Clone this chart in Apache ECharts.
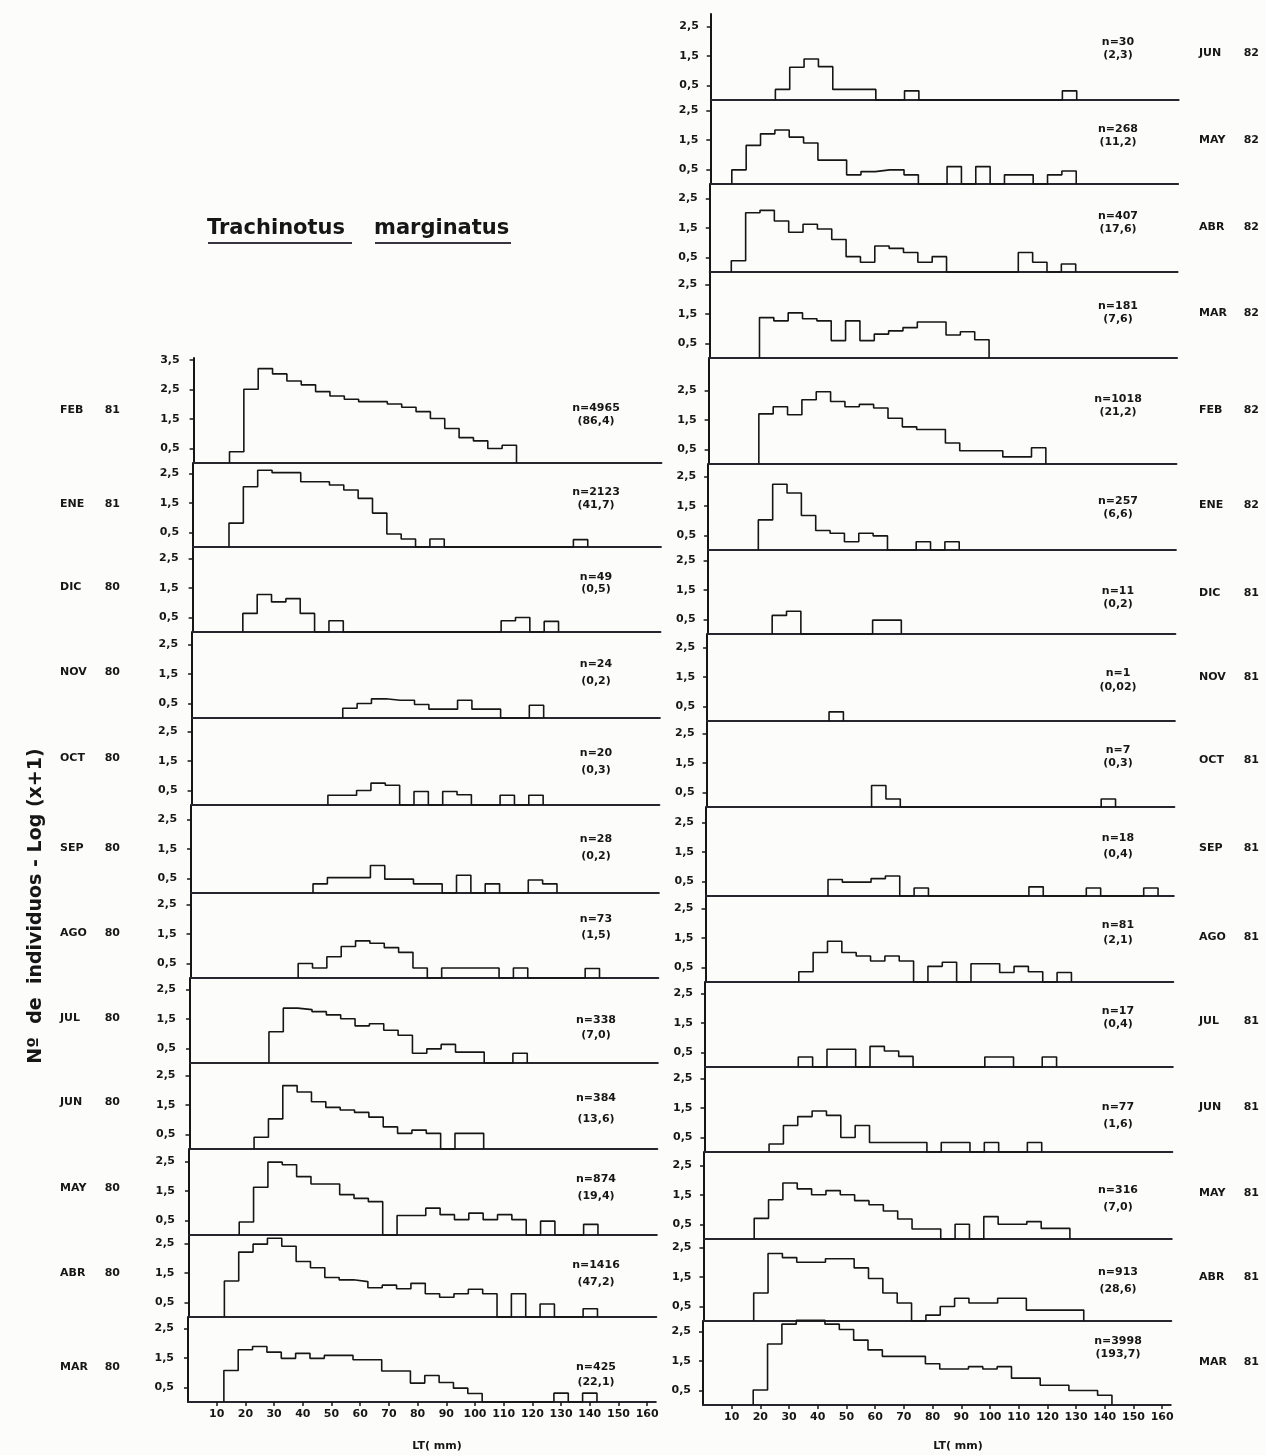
<!DOCTYPE html>
<html><head><meta charset="utf-8">
<script src="https://cdn.jsdelivr.net/npm/echarts@6/dist/echarts.min.js"></script>
<style>html,body{margin:0;padding:0;background:#fcfcfb}#c{width:1266px;height:1455px}</style>
</head><body><div id="c"></div>
<script>
// ---------------- DATA ----------------
const binWidth = 5; // length class width (mm)
const xTicks = [10,20,30,40,50,60,70,80,90,100,110,120,130,140,150,160];
const yTicks = [0.5,1.5,2.5];
const yTicksTall = [0.5,1.5,2.5,3.5];

const leftLabels = ['FEB 81','ENE 81','DIC 80','NOV 80','OCT 80','SEP 80','AGO 80','JUL 80','JUN 80','MAY 80','ABR 80','MAR 80'];
const leftN   = ['n=4965','n=2123','n=49','n=24','n=20','n=28','n=73','n=338','n=384','n=874','n=1416','n=425'];
const leftPar = ['(86,4)','(41,7)','(0,5)','(0,2)','(0,3)','(0,2)','(1,5)','(7,0)','(13,6)','(19,4)','(47,2)','(22,1)'];

const rightLabels = ['JUN 82','MAY 82','ABR 82','MAR 82','FEB 82','ENE 82','DIC 81','NOV 81','OCT 81','SEP 81','AGO 81','JUL 81','JUN 81','MAY 81','ABR 81','MAR 81'];
const rightN   = ['n=30','n=268','n=407','n=181','n=1018','n=257','n=11','n=1','n=7','n=18','n=81','n=17','n=77','n=316','n=913','n=3998'];
const rightPar = ['(2,3)','(11,2)','(17,6)','(7,6)','(21,2)','(6,6)','(0,2)','(0,02)','(0,3)','(0,4)','(2,1)','(0,4)','(1,6)','(7,0)','(28,6)','(193,7)'];

// [class centre (mm), log(x+1)]
const feb81 = [[15,.38],[20,2.5],[25,3.2],[30,3.02],[35,2.78],[40,2.65],[45,2.42],[50,2.27],[55,2.16],[60,2.08],[65,2.08],[70,2.0],[75,1.89],[80,1.74],[85,1.51],[90,1.17],[95,.86],[100,.75],[105,.49],[110,.6]];
const ene81 = [[15,.81],[20,2.04],[25,2.6],[30,2.52],[35,2.52],[40,2.21],[45,2.21],[50,2.1],[55,1.93],[60,1.65],[65,1.15],[70,.44],[75,.27],[85,.27],[135,.25]];
const dic80 = [[20,.63],[25,1.27],[30,1.02],[35,1.13],[40,.63],[50,.38],[110,.38],[115,.49],[125,.36]];
const nov80 = [[55,.33],[60,.49],[65,.65],[70,.6],[75,.6],[80,.46],[85,.3],[90,.3],[95,.6],[100,.3],[105,.3],[120,.43]];
const oct80 = [[50,.33],[55,.33],[60,.49],[65,.74],[70,.67],[80,.46],[90,.46],[95,.35],[110,.33],[120,.33]];
const sep80 = [[45,.31],[50,.52],[55,.52],[60,.52],[65,.93],[70,.47],[75,.47],[80,.31],[85,.31],[95,.6],[105,.31],[120,.44],[125,.31]];
const ago80 = [[40,.49],[45,.34],[50,.72],[55,1.07],[60,1.26],[65,1.18],[70,1.03],[75,.87],[80,.34],[90,.34],[95,.34],[100,.34],[105,.34],[115,.34],[140,.32]];
const jul80 = [[30,1.06],[35,1.86],[40,1.81],[45,1.74],[50,1.63],[55,1.5],[60,1.26],[65,1.33],[70,1.11],[75,.94],[80,.33],[85,.48],[90,.63],[95,.37],[100,.37],[115,.33]];
const jun80 = [[25,.4],[30,1.02],[35,2.15],[40,1.93],[45,1.6],[50,1.41],[55,1.32],[60,1.24],[65,1.08],[70,.75],[75,.53],[80,.64],[85,.53],[95,.53],[100,.53]];
const may80 = [[20,.44],[25,1.62],[30,2.47],[35,2.38],[40,1.98],[45,1.73],[50,1.73],[55,1.37],[60,1.24],[65,1.13],[75,.66],[80,.66],[85,.91],[90,.69],[95,.52],[100,.74],[105,.52],[110,.69],[115,.52],[125,.47],[140,.36]];
const abr80 = [[15,1.22],[20,2.2],[25,2.47],[30,2.67],[35,2.4],[40,1.88],[45,1.67],[50,1.34],[55,1.26],[60,1.2],[65,.99],[70,1.08],[75,.96],[80,1.14],[85,.79],[90,.67],[95,.79],[100,.94],[105,.79],[115,.79],[125,.44],[140,.28]];
const mar80 = [[15,1.07],[20,1.77],[25,1.88],[30,1.69],[35,1.48],[40,1.65],[45,1.48],[50,1.58],[55,1.58],[60,1.43],[65,1.43],[70,1.05],[75,1.05],[80,.64],[85,.9],[90,.66],[95,.47],[100,.29],[130,.3],[140,.3]];

const jun82 = [[25,.36],[30,1.11],[35,1.39],[40,1.13],[45,.36],[50,.36],[55,.36],[70,.31],[125,.31]];
const may82 = [[10,.48],[15,1.31],[20,1.7],[25,1.83],[30,1.59],[35,1.39],[40,.81],[45,.81],[50,.31],[55,.42],[60,.48],[65,.48],[70,.31],[85,.59],[95,.59],[105,.31],[110,.31],[120,.31],[125,.44]];
const abr82 = [[10,.38],[15,2.01],[20,2.09],[25,1.73],[30,1.35],[35,1.62],[40,1.46],[45,1.1],[50,.52],[55,.33],[60,.88],[65,.8],[70,.66],[75,.33],[80,.52],[110,.66],[115,.33],[125,.27]];
const mar82 = [[20,1.37],[25,1.26],[30,1.53],[35,1.33],[40,1.26],[45,.59],[50,1.26],[55,.59],[60,.81],[65,.92],[70,1.03],[75,1.22],[80,1.22],[85,.78],[90,.89],[95,.62]];
const feb82 = [[20,1.7],[25,1.94],[30,1.67],[35,2.18],[40,2.45],[45,2.12],[50,1.94],[55,2.02],[60,1.9],[65,1.55],[70,1.26],[75,1.17],[80,1.17],[85,.71],[90,.45],[95,.45],[100,.45],[105,.24],[110,.24],[115,.55]];
const ene82 = [[20,1.02],[25,2.23],[30,1.93],[35,1.17],[40,.66],[45,.57],[50,.28],[55,.57],[60,.48],[75,.28],[85,.28]];
const dic81 = [[25,.63],[30,.77],[60,.47],[65,.47]];
const nov81 = [[45,.31]];
const oct81 = [[60,.73],[65,.27],[140,.27]];
const sep81 = [[45,.56],[50,.47],[55,.47],[60,.59],[65,.68],[75,.27],[115,.31],[135,.27],[155,.27]];
const ago81 = [[35,.35],[40,1.0],[45,1.38],[50,1.0],[55,.88],[60,.71],[65,.88],[70,.71],[80,.53],[85,.67],[95,.62],[100,.62],[105,.32],[110,.53],[115,.35],[125,.32]];
const jul81 = [[35,.34],[45,.6],[50,.6],[60,.7],[65,.54],[70,.36],[100,.34],[105,.34],[120,.34]];
const jun81 = [[25,.27],[30,.9],[35,1.2],[40,1.39],[45,1.24],[50,.49],[55,.9],[60,.32],[65,.32],[70,.32],[75,.32],[85,.32],[90,.32],[100,.32],[115,.32]];
const may81 = [[20,.7],[25,1.33],[30,1.9],[35,1.7],[40,1.5],[45,1.64],[50,1.5],[55,1.3],[60,1.16],[65,.95],[70,.68],[75,.34],[80,.34],[90,.5],[100,.76],[105,.5],[110,.5],[115,.59],[120,.36],[125,.36]];
const abr81 = [[20,.95],[25,2.29],[30,2.15],[35,1.99],[40,1.99],[45,2.11],[50,2.11],[55,1.8],[60,1.44],[65,.95],[70,.61],[80,.2],[85,.49],[90,.77],[95,.61],[100,.61],[105,.77],[110,.77],[115,.37],[120,.37],[125,.37],[130,.37]];
const mar81 = [[20,.51],[25,2.07],[30,2.74],[35,2.87],[40,2.87],[45,2.74],[50,2.56],[55,2.2],[60,1.87],[65,1.65],[70,1.65],[75,1.65],[80,1.4],[85,1.22],[90,1.22],[95,1.3],[100,1.22],[105,1.3],[110,.91],[115,.91],[120,.67],[125,.67],[130,.49],[135,.49],[140,.33]];

const leftData  = [feb81, ene81, dic80, nov80, oct80, sep80, ago80, jul80, jun80, may80, abr80, mar80];
const rightData = [jun82, may82, abr82, mar82, feb82, ene82, dic81, nov81, oct81, sep81, ago81, jul81, jun81, may81, abr81, mar81];

// ---------------- LAYOUT ----------------
const PX_PER_UNIT = 29.5, PX_PER_MM = 2.87, XMAX = 163, SKEW = 0.006;
const leftTop = 358, rightTop = 14;
const leftBase  = [463,547,632,718,805,893,978,1063,1149,1235,1317,1402];
const rightBase = [100,184,272,358,464,550,634,721,807,896,982,1067,1152,1239,1321,1405];
const leftMonthY = [410,504,587,672,758,848,933,1018,1102,1188,1273,1367];
const leftN1Y = [408,492,577,664,753,839,919,1020,1098,1179,1265,1367];
const leftN2Y = [421,505,589,681,770,856,935,1035,1119,1196,1282,1382];
const rightMonthY = [53,140,227,313,410,505,593,677,760,848,937,1021,1107,1193,1277,1362];
const rightN1Y = [42,129,216,306,399,501,591,673,750,838,925,1011,1107,1190,1272,1341];
const rightN2Y = [55,142,229,319,412,514,604,687,763,854,940,1024,1124,1207,1289,1354];

const INK = '#161616';
const FONT = 'DejaVu Sans';

function stepPoints(pairs) {
  const m = new Map(pairs);
  const cs = pairs.map(p => p[0]);
  const lo = Math.min(...cs), hi = Math.max(...cs);
  const pts = [[lo - binWidth / 2, 0]];
  for (let c = lo; c <= hi; c += binWidth) pts.push([c - binWidth / 2, m.get(c) || 0]);
  pts.push([hi + binWidth / 2, 0]);
  return pts;
}

const grids = [], xAxes = [], yAxes = [], series = [];
function addPanel(pairs, top, base, x0, isBottom, ticks, labelMargin) {
  const i = grids.length;
  const left = x0 + (1400 - base) * SKEW;
  grids.push({ left: left, top: top, width: XMAX * PX_PER_MM, height: base - top, containLabel: false });
  xAxes.push({
    type: 'value', gridIndex: i, min: 0, max: XMAX,
    axisLine: { show: true, onZero: false, lineStyle: { color: '#26262e', width: 2 } },
    axisTick: { show: isBottom, customValues: xTicks, length: 4, lineStyle: { color: INK, width: 1.5 } },
    axisLabel: { show: isBottom, customValues: xTicks, margin: 7, color: INK, fontSize: 11, fontWeight: 'bold', fontFamily: FONT },
    splitLine: { show: false }
  });
  yAxes.push({
    type: 'value', gridIndex: i, min: 0, max: (base - top) / PX_PER_UNIT,
    axisLine: { show: true, lineStyle: { color: INK, width: 2 } },
    axisTick: { show: true, customValues: ticks, length: 4, lineStyle: { color: INK, width: 1.5 } },
    axisLabel: { customValues: ticks, margin: labelMargin, color: INK, fontSize: 11, fontWeight: 'bold', fontFamily: FONT,
                 formatter: v => String(v).replace('.', ',') },
    splitLine: { show: false }
  });
  series.push({
    type: 'line', xAxisIndex: i, yAxisIndex: i, data: stepPoints(pairs), step: 'end',
    symbol: 'none', clip: false, silent: true, z: 3,
    lineStyle: { color: INK, width: 1.6 }
  });
}

leftData.forEach((d, k) => addPanel(d, k === 0 ? leftTop : leftBase[k - 1], leftBase[k], 188, k === leftData.length - 1, k === 0 ? yTicksTall : yTicks, 14));
rightData.forEach((d, k) => addPanel(d, k === 0 ? rightTop : rightBase[k - 1], rightBase[k], 703, k === rightData.length - 1, yTicks, 12));

function txt(x, y, s, size, align, extra, weight) {
  return Object.assign({
    type: 'text', x: x, y: y, silent: true, z: 10,
    style: { text: s, fill: INK, font: (weight || 'bold') + ' ' + size + 'px "' + FONT + '"',
             textAlign: align, align: align, textVerticalAlign: 'middle', verticalAlign: 'middle' }
  }, extra || {});
}
const graphics = [];
leftLabels.forEach((l, k) => {
  const [m, y] = l.split(' ');
  graphics.push(txt(60, leftMonthY[k], m, 11, 'left'));
  graphics.push(txt(120, leftMonthY[k], y, 11, 'right'));
  graphics.push(txt(596, leftN1Y[k], leftN[k], 11, 'center'));
  graphics.push(txt(596, leftN2Y[k], leftPar[k], 11, 'center'));
});
rightLabels.forEach((l, k) => {
  const [m, y] = l.split(' ');
  graphics.push(txt(1199, rightMonthY[k], m, 11, 'left'));
  graphics.push(txt(1259, rightMonthY[k], y, 11, 'right'));
  graphics.push(txt(1118, rightN1Y[k], rightN[k], 11, 'center'));
  graphics.push(txt(1118, rightN2Y[k], rightPar[k], 11, 'center'));
});
// title
graphics.push(txt(207, 229, 'Trachinotus', 21, 'left'));
graphics.push(txt(374, 229, 'marginatus', 21, 'left'));
graphics.push({ type: 'line', silent: true, shape: { x1: 208, y1: 243, x2: 352, y2: 243 }, style: { stroke: '#3a3440', lineWidth: 2 } });
graphics.push({ type: 'line', silent: true, shape: { x1: 375, y1: 243, x2: 511, y2: 243 }, style: { stroke: '#3a3440', lineWidth: 2 } });
// axis names
graphics.push(txt(36, 906, 'Nº  de  individuos - Log (x+1)', 19, 'center', { rotation: Math.PI / 2 }));
graphics.push(txt(437, 1446, 'LT( mm)', 11, 'center'));
graphics.push(txt(958, 1446, 'LT( mm)', 11, 'center'));

const chart = echarts.init(document.getElementById('c'), null, { renderer: 'canvas', width: 1266, height: 1455 });
chart.setOption({
  backgroundColor: '#fcfcfb',
  animation: false,
  grid: grids, xAxis: xAxes, yAxis: yAxes, series: series,
  graphic: { elements: graphics }
});
</script></body></html>
